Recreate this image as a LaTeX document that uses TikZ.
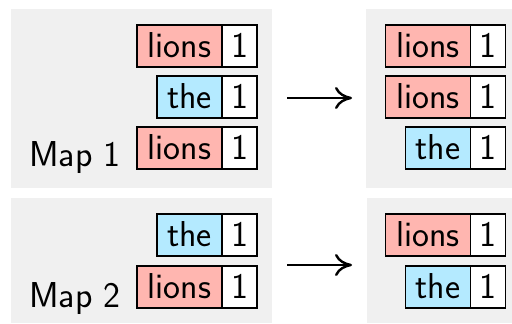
\documentclass[tikz,border=0pt]{standalone}
\usepackage{fontspec}
\usetikzlibrary{arrows.meta}
\definecolor{panelgray}{RGB}{240,240,240}
\definecolor{lionred}{RGB}{255,182,176}
\definecolor{theblue}{RGB}{180,234,255}
\begin{document}
\begin{tikzpicture}[x=0.5pt,y=-0.5pt,
  cell/.style={draw=black, line width=0.75pt, minimum height=21pt, inner sep=0pt,
    text height=12pt, text depth=0pt, font=\fontsize{18}{22}\selectfont\sffamily},
  lioncell/.style={cell, fill=lionred, minimum width=42.5pt},
  thecell/.style={cell, fill=theblue, minimum width=32.5pt},
  onecell/.style={cell, fill=white, minimum width=17.5pt},
  maplabel/.style={anchor=base west, inner sep=0pt, font=\fontsize{18}{22}\selectfont\sffamily},
  panel/.style={fill=panelgray},
  maparrow/.style={line width=1.2pt, -{Computer Modern Rightarrow[length=8.5pt,width=11pt]}}]
\useasboundingbox (0,0) rectangle (512,324);
% panels
\fill[panel] (11,9) rectangle (272,188);
\fill[panel] (366,9) rectangle (512,188);
\fill[panel] (11,198) rectangle (272,323);
\fill[panel] (367,198) rectangle (512,323);
% Map 1
\node[lioncell] (a1w) at (179.5,46) {lions};
\node[onecell]  (a1n) at (239.5,46) {1};
\node[thecell]  (a2w) at (189.5,97) {the};
\node[onecell]  (a2n) at (239.5,97) {1};
\node[lioncell] (a3w) at (179.5,148) {lions};
\node[onecell]  (a3n) at (239.5,148) {1};
\node[maplabel] (m1) at (29,167) {Map 1};
% result 1
\node[lioncell] (b1w) at (428,46) {lions};
\node[onecell]  (b1n) at (488,46) {1};
\node[lioncell] (b2w) at (428,97) {lions};
\node[onecell]  (b2n) at (488,97) {1};
\node[thecell]  (b3w) at (438,148) {the};
\node[onecell]  (b3n) at (488,148) {1};
% Map 2
\node[thecell]  (c1w) at (189.5,235) {the};
\node[onecell]  (c1n) at (239.5,235) {1};
\node[lioncell] (c2w) at (179.5,287) {lions};
\node[onecell]  (c2n) at (239.5,287) {1};
\node[maplabel] (m2) at (29,308) {Map 2};
% result 2
\node[lioncell] (d1w) at (428,235) {lions};
\node[onecell]  (d1n) at (488,235) {1};
\node[thecell]  (d2w) at (438,287) {the};
\node[onecell]  (d2n) at (488,287) {1};
% arrows
\coordinate (s1) at (287,98);
\coordinate (e1) at (352,98);
\coordinate (s2) at (287,265);
\coordinate (e2) at (352,265);
\draw[maparrow] (s1) -- (e1);
\draw[maparrow] (s2) -- (e2);
\end{tikzpicture}
\end{document}
